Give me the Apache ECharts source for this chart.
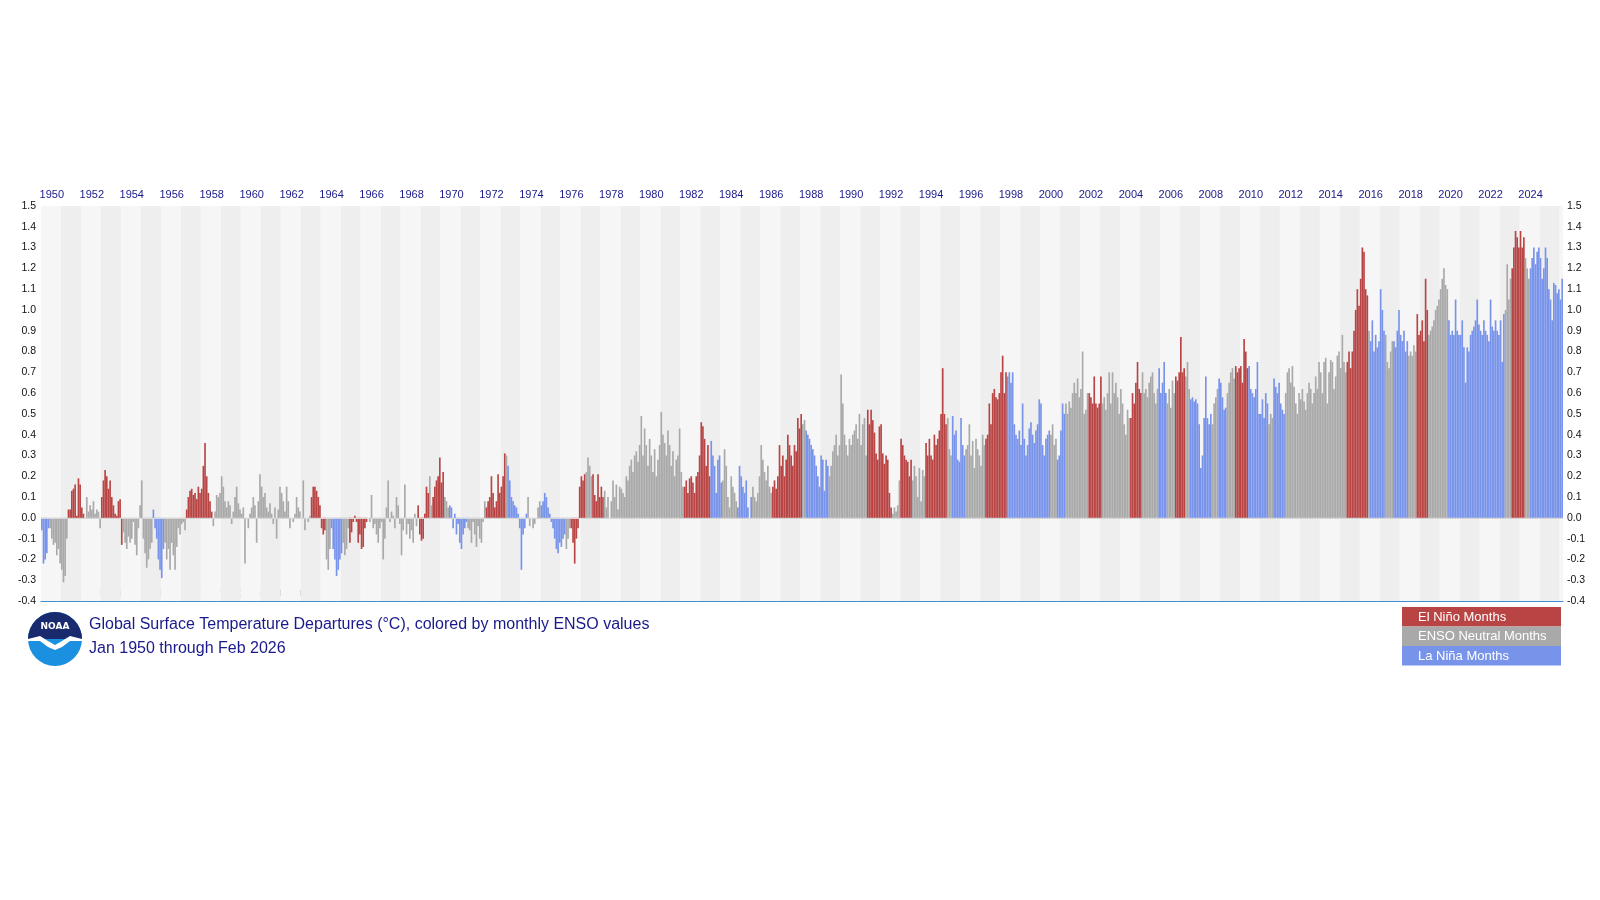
<!DOCTYPE html>
<html><head><meta charset="utf-8">
<script src="https://cdn.jsdelivr.net/npm/echarts@6/dist/echarts.min.js"></script>
<style>html,body{margin:0;padding:0;background:#fff}#c{width:1600px;height:900px}</style>
</head><body><div id="c"></div>
<script>
// ENSO class per run: E = El Niño, N = Neutral, L = La Niña; values in °C (monthly, Jan 1950 onward)
const runs1950s = [
 ['L',[-0.06,-0.22,-0.2,-0.17,-0.05]],
 ['N',[-0.05,-0.1,-0.13,-0.12,-0.18,-0.15,-0.22,-0.25,-0.31,-0.28,-0.1]],
 ['E',[0.04,0.04,0.13,0.14,0.16,0.01,0.19,0.16,0.05,0.02]],
 ['N',[0.0,0.1,0.03,0.06,0.04,0.08,0.02,0.04,0.03,-0.05]],
 ['E',[0.1,0.18,0.23,0.2,0.14,0.18,0.1,0.06,0.02,0.01,0.08,0.09,-0.13]],
 ['N',[-0.07,-0.12,-0.15,-0.09,-0.12,-0.1,-0.02,-0.13,-0.18,-0.05,0.06,0.18,-0.1,-0.17,-0.24,-0.2,-0.15,-0.12]],
 ['L',[0.04,-0.05,-0.1,-0.2,-0.25,-0.29,-0.15]],
 ['N',[-0.12,-0.2,-0.15,-0.25,-0.12,-0.18,-0.25,-0.14,-0.05,-0.08,-0.03,-0.02,-0.06]],
 ['E',[0.04,0.1,0.13,0.14,0.11,0.12,0.09,0.15,0.12,0.14,0.25,0.36,0.2,0.12,0.08,0.03]]
];
const runs1960s = [
 ['N',[-0.04,0.03,0.11,0.1,0.12,0.2,0.15,0.08,0.05,0.08, 0.06,-0.03,0.03,0.1,0.15,0.07,0.04,0.02,0.05,-0.22,
       0.0,-0.05,0.02,0.05,0.1,0.06,-0.12,0.08,0.21,0.15, 0.1,0.12,0.05,0.03,0.07,0.02,-0.03,0.05,-0.1,0.04,
       0.15,0.12,0.08,0.03,0.15,0.08,-0.05,0.0,-0.02,0.02, 0.1,0.05,0.03,0.0,0.18,-0.06,0.0,-0.02,0.01]],
 ['E',[0.1,0.15,0.15,0.13,0.1,0.06,-0.05,-0.08,-0.06]],
 ['N',[-0.2,-0.25,-0.15]],
 ['L',[-0.05,-0.15,-0.2,-0.28,-0.25,-0.2,-0.17]],
 ['N',[-0.12,-0.18,-0.15,-0.05]],
 ['E',[-0.12,-0.07,-0.02,0.01,-0.02,-0.12,-0.08,-0.15,-0.14,-0.05,-0.02]],
 ['N',[0.0,-0.02,0.11,-0.05,-0.03,-0.08,-0.12,-0.05,-0.02,-0.2, -0.1,0.05,0.18,-0.02,0.03,0.01,-0.05,0.1,0.06,-0.03,
       -0.18,-0.06,0.16,-0.08,-0.03,-0.1,-0.06,-0.12,0.02,-0.04]],
 ['E',[0.06,-0.08,-0.11,-0.1,0.02,0.15,0.12]],
 ['N',[0.2,0.06]],
 ['E',[0.1,0.15,0.18,0.2,0.29,0.17,0.22]],
 ['N',[0.1,0.08,0.05]],
 ['L',[0.06,0.05,-0.05,0.02,-0.08,-0.03,-0.12,-0.15,-0.08,-0.05,-0.02]],
 ['N',[-0.05,-0.06,-0.12,-0.02,-0.08,-0.14,-0.04,-0.1,-0.12,-0.02,0.08]]
];
const runs1970s = [
 ['E',[0.05,0.08,0.1,0.2,0.12,0.05,0.08,0.21,0.12,0.15,0.2,0.31]],
 ['N',[0.3]],
 ['L',[0.25,0.18,0.1,0.08,0.06,0.05,0.02,-0.05,-0.25,-0.08,-0.05,0.02]],
 ['N',[0.1,-0.04,0.0,-0.05,-0.03,0.0,0.05,0.08]],
 ['L',[0.06,0.08,0.12,0.1,0.05,0.02,-0.02,-0.05,-0.1,-0.15,-0.17,-0.12,-0.14,-0.1,-0.08]],
 ['N',[-0.15,-0.1,-0.05]],
 ['E',[-0.05,-0.12,-0.22,-0.1,-0.05,0.15,0.2,0.18,0.21]],
 ['N',[0.22,0.29,0.25,0.2]],
 ['E',[0.21,0.11,0.08,0.21,0.1,0.15,0.1]],
 ['N',[0.13,0.05,0.1,0.0,0.08,0.18,0.1,0.16,0.04,0.15,0.14,0.12,0.1,0.2,0.18,0.25,0.28,0.22,0.3,0.32,0.27,0.35,
       0.49,0.3,0.43,0.35,0.25,0.38,0.3,0.22,0.33,0.2,0.28,0.35,0.51,0.4,0.36,0.3,0.42,0.35,0.25,0.32,0.2,0.28,0.3,0.43,0.22,0.15]]
];
const runs1980s = [
 ['E',[0.15,0.18,0.12,0.19,0.2,0.17,0.12,0.2,0.22,0.3,0.46,0.44,0.38,0.25,0.35,0.2]],
 ['L',[0.37,0.3,0.25,0.12,0.28,0.3,0.17]],
 ['N',[0.18,0.33,0.25,0.1,0.05,0.2,0.15,0.12,0.08]],
 ['L',[0.05,0.25,0.2,0.15,0.12,0.18,0.05,0.0,0.1]],
 ['N',[0.15,0.1,0.08,0.12,0.2,0.35,0.28,0.22,0.18,0.25,0.15,0.12]],
 ['E',[0.15,0.18,0.14,0.2,0.35,0.25,0.3,0.2,0.28,0.4,0.35,0.3,0.25,0.35,0.32,0.48,0.43,0.5]],
 ['N',[0.45,0.47]],
 ['L',[0.42,0.4,0.38,0.35,0.33,0.3,0.25,0.2,0.15,0.3,0.28,0.13,0.28,0.25]],
 ['N',[0.2,0.25,0.32,0.35,0.4,0.3,0.35,0.69,0.55,0.4,0.35,0.3,0.38,0.35,0.4,0.42,0.45,0.38,0.5,0.35,0.45,0.48,0.3]]
];
const runs1990s = [
 ['E',[0.52,0.45,0.52,0.47,0.41,0.31,0.28,0.44,0.45,0.31,0.26,0.3,0.28,0.12,0.05]],
 ['N',[0.02,0.05,0.03,0.06,0.18]],
 ['E',[0.38,0.35,0.3,0.28,0.27,0.2,0.28]],
 ['N',[0.18,0.25,0.2,0.1,0.24,0.08,0.23,0.2]],
 ['E',[0.36,0.3,0.38,0.3,0.28,0.4,0.35,0.38,0.42,0.5,0.72,0.5,0.45]],
 ['N',[0.48,0.33,0.3]],
 ['L',[0.49,0.4,0.42,0.28,0.27,0.48,0.35,0.3]],
 ['N',[0.33,0.35,0.45,0.3,0.37,0.24,0.38,0.33,0.3,0.25,0.4,0.35]],
 ['E',[0.38,0.4,0.55,0.45,0.6,0.62,0.58,0.57,0.6,0.7,0.78,0.6,0.7]],
 ['L',[0.68,0.7,0.65,0.7,0.45,0.4,0.38,0.42,0.35,0.55,0.38,0.3,0.35,0.43,0.46,0.4,0.36,0.42,0.45,0.57,0.55,0.35,0.3,0.38,0.4,0.42]],
 ['N',[0.4,0.45,0.35,0.38]],
 ['L',[0.28,0.3,0.42,0.55,0.5]]
];
const runs2000s = [
 ['N',[0.55,0.5,0.56,0.53,0.6,0.65,0.6,0.67,0.58,0.62,0.8,0.5,0.52,0.6]],
 ['E',[0.6,0.58,0.55,0.68,0.55,0.53,0.55,0.68]],
 ['N',[0.55,0.58,0.52,0.6,0.7,0.55,0.7,0.6,0.65,0.58,0.5,0.62,0.55,0.45,0.4,0.52,0.48]],
 ['E',[0.48,0.6,0.55,0.65,0.75,0.62,0.6]],
 ['N',[0.7,0.6,0.62,0.58,0.65,0.68,0.7,0.6,0.55,0.62]],
 ['L',[0.72,0.6,0.65,0.75,0.6]],
 ['N',[0.55,0.62,0.53,0.66,0.6]],
 ['E',[0.68,0.66,0.7,0.87,0.7,0.72]],
 ['N',[0.68,0.75,0.62]],
 ['L',[0.57,0.58,0.56,0.57,0.55,0.45,0.24,0.3,0.48,0.68,0.48,0.45,0.5]],
 ['N',[0.45,0.55,0.58,0.62]],
 ['L',[0.67,0.65,0.58,0.52,0.53]],
 ['N',[0.6,0.65,0.7,0.72,0.67]],
 ['E',[0.73,0.7,0.72,0.73,0.65,0.86,0.8,0.72]]
];
const runs2010s = [
 ['L',[0.73,0.62,0.6,0.58,0.62,0.75,0.5,0.5,0.57,0.48,0.6,0.55]],
 ['N',[0.45,0.5,0.48]],
 ['L',[0.67,0.63,0.6,0.65,0.55,0.52,0.5]],
 ['N',[0.6,0.7,0.72,0.65,0.73,0.63,0.55,0.5,0.6,0.57,0.62,0.56,0.52,0.6,0.65,0.62,0.55,0.6,0.68,0.62,
       0.75,0.7,0.6,0.75,0.77,0.55,0.7,0.76,0.75,0.62,0.68,0.78,0.8,0.72,0.88,0.75,0.7]],
 ['E',[0.75,0.8,0.72,0.8,0.9,1.0,1.1,1.02,1.15,1.3,1.28,1.1,1.07]],
 ['N',[0.9]],
 ['L',[0.85,0.95,0.8,0.88,0.82,0.85,1.1,1.0,0.9]],
 ['N',[0.88,0.75,0.72,0.8,0.85]],
 ['L',[0.85,0.82,0.9,1.0,0.88,0.85,0.9,0.8,0.85]],
 ['N',[0.78,0.8,0.78,0.83,0.8]],
 ['E',[0.98,0.88,0.9,0.95,0.85,1.15,1.0]],
 ['N',[0.88,0.9,0.92,0.95,1.0,1.02,1.05,1.1,1.15,1.2,1.12,1.1]]
];
const runs2020s = [
 ['L',[0.95,0.88,0.9,0.88,1.05,0.9,0.88,0.88,0.95,0.82,0.65,0.82,0.8,0.88,0.9,0.92,0.95,1.05,0.93,0.9,
       0.88,0.95,0.9,0.88,0.85,1.05,0.92,0.9,0.95,0.9,0.88,0.95,0.75,0.98]],
 ['N',[1.0,1.22,1.05,1.15]],
 ['E',[1.2,1.3,1.38,1.35,1.3,1.38,1.3,1.35]],
 ['N',[1.25,1.2,1.15]],
 ['L',[1.2,1.25,1.3,1.22,1.28,1.3,1.25,1.15,1.2,1.3,1.25,1.1,1.05,0.95,1.13,1.12,1.08,1.1,1.05,1.15]]
];
const startYear = 1950;
const yTicks = [-0.4,1.5,0.1];
const ensoColors = {E:'#b94444', N:'#a9a9a9', L:'#7893ea'};
const legendItems = [['El Niño Months','E'],['ENSO Neutral Months','N'],['La Niña Months','L']];

const allRuns = [].concat(runs1950s,runs1960s,runs1970s,runs1980s,runs1990s,runs2000s,runs2010s,runs2020s);
const cats=[], data=[];
allRuns.forEach(([c,vals])=>vals.forEach(v=>{
  const i=cats.length;
  cats.push((startYear+Math.floor(i/12))+'-'+String(i%12+1).padStart(2,'0'));
  data.push({value:v,itemStyle:{color:ensoColors[c]}});
}));

const navy='#1a1a8a';
const chart=echarts.init(document.getElementById('c'),null,{renderer:'canvas'});
const legendG=[];
legendItems.forEach(([t,k],i)=>{
  legendG.push({type:'rect',shape:{x:1402,y:607+i*19.5,width:159,height:19.5},style:{fill:ensoColors[k]}});
  legendG.push({type:'text',x:1418,y:617+i*19.5,style:{text:t,fill:'#fff',font:'13px Liberation Sans, Arial',verticalAlign:'middle'}});
});
chart.setOption({
  animation:false,
  backgroundColor:'#fff',
  grid:{left:41,right:37,top:206,bottom:299,containLabel:false},
  xAxis:[{
    type:'category',data:cats,position:'top',boundaryGap:true,
    axisLine:{show:false},axisTick:{show:false},
    axisLabel:{interval:(i)=>i%24===6,formatter:(v)=>v.slice(0,4),color:navy,fontSize:11,margin:6,fontFamily:'Liberation Sans'},
    splitArea:{show:true,interval:(i)=>i%12===0,areaStyle:{color:['#f6f6f6','#eeeeee']}},
    splitLine:{show:false}
  },{
    type:'category',data:cats,position:'bottom',
    axisLine:{show:true,onZero:false,lineStyle:{color:'#3d8fd6',width:1.2}},axisTick:{show:false},axisLabel:{show:false}
  }],
  yAxis:[
    {type:'value',min:yTicks[0],max:yTicks[1],interval:yTicks[2],position:'left',
     axisLabel:{formatter:v=>v.toFixed(1),color:'#111',fontSize:10.5,margin:5,fontFamily:'Liberation Sans'},
     splitLine:{show:false},axisLine:{show:false},axisTick:{show:false}},
    {type:'value',min:yTicks[0],max:yTicks[1],interval:yTicks[2],position:'right',
     axisLabel:{formatter:v=>v.toFixed(1),color:'#111',fontSize:10.5,margin:4,fontFamily:'Liberation Sans'},
     splitLine:{show:false},axisLine:{show:false},axisTick:{show:false}}
  ],
  series:[{type:'bar',data:data,barCategoryGap:'0%',xAxisIndex:0,yAxisIndex:0,
    markLine:{silent:true,symbol:'none',label:{show:false},lineStyle:{color:'#d6d6d6',type:'solid',width:1},data:[{yAxis:0}]}}],
  graphic:[
    {type:'text',x:46,y:588,style:{text:"NOAA's National Centers for Environmental Information",fill:navy,font:'10.5px Liberation Sans, Arial'}},
    {type:'text',x:89,y:617,style:{text:'Global Surface Temperature Departures (°C), colored by monthly ENSO values',fill:navy,font:'16px Liberation Sans, Arial'}},
    {type:'text',x:89,y:641,style:{text:'Jan 1950 through Feb 2026',fill:navy,font:'16px Liberation Sans, Arial'}},
    {type:'circle',shape:{cx:55,cy:639,r:27},style:{fill:'#1b8fe0'}},
    {type:'sector',shape:{cx:55,cy:639,r:27,r0:0,startAngle:Math.PI,endAngle:2*Math.PI},style:{fill:'#1a2a6e'}},
    {type:'polygon',shape:{points:[[28,639],[40,636],[48,641],[55,645],[62,641],[70,636],[82,639],[82,641],[70,641],[62,647],[55,650],[48,647],[40,641],[28,641]]},style:{fill:'#fff'}},
    {type:'text',x:55,y:627,style:{text:'NOAA',fill:'#fff',font:'bold 9px DejaVu Sans',align:'center',verticalAlign:'middle'}}
  ].concat(legendG)
});
</script></body></html>
